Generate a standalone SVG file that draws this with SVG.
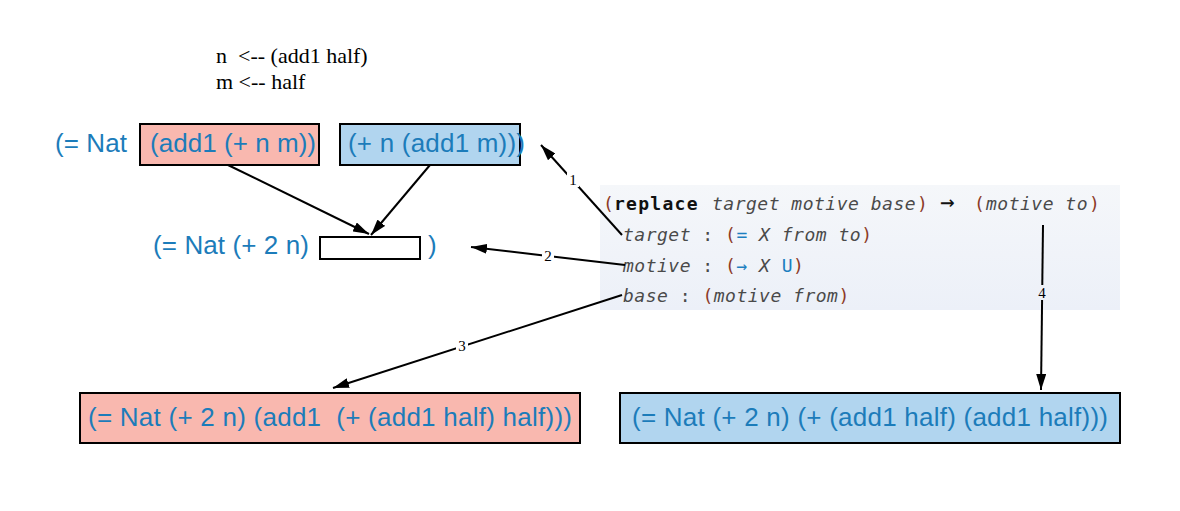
<svg xmlns="http://www.w3.org/2000/svg" width="1180" height="511" viewBox="0 0 1180 511">
<style>
.expr{font-family:"Liberation Sans",Arial,sans-serif;font-size:26px;fill:#1c7cba}
.note{font-family:"Liberation Serif","Times New Roman",serif;font-size:22px;fill:#000}
.lbl{font-family:"Liberation Serif","Times New Roman",serif;font-size:15px;fill:#000;text-anchor:middle}
.code{font-family:"DejaVu Sans Mono","Liberation Mono",monospace;font-size:18px;letter-spacing:0.5px;fill:#4a4a4a}
.it{font-style:italic}
.p{fill:#8c3b28}
.b{font-weight:bold;fill:#111}
.s{fill:#1d7fc0}
.box{stroke:#000;stroke-width:2}
.edge{stroke:#000;stroke-width:2;fill:none}
</style>
<defs>
<marker id="ah" viewBox="0 0 16 10" refX="16" refY="5" markerWidth="16" markerHeight="10" markerUnits="userSpaceOnUse" orient="auto">
<path d="M0,0 L16,5 L0,10 z" fill="#000"/>
</marker>
<linearGradient id="pg" x1="0" y1="0" x2="0" y2="1">
<stop offset="0" stop-color="#f5f7fa"/>
<stop offset="1" stop-color="#ecf0f8"/>
</linearGradient>
</defs>
<rect width="1180" height="511" fill="#fff"/>

<g id="note">
<text class="note" x="216" y="63" xml:space="preserve">n  &lt;-- (add1 half)</text>
<text class="note" x="216" y="89" xml:space="preserve">m &lt;-- half</text>
</g>

<g id="goal">
<text class="expr" x="55" y="152" textLength="72" lengthAdjust="spacing">(= Nat</text>
<g id="from">
<rect class="box" x="140" y="124" width="179" height="41" fill="#f9b8af"/>
<text class="expr" x="150" y="152" textLength="166" lengthAdjust="spacing">(add1 (+ n m))</text>
</g>
<g id="to">
<rect class="box" x="340" y="124" width="180" height="41" fill="#b1d5ef"/>
<text class="expr" x="348" y="152" textLength="177" lengthAdjust="spacing">(+ n (add1 m)))</text>
</g>
</g>

<g id="motive">
<text class="expr" x="153" y="254" textLength="156" lengthAdjust="spacing">(= Nat (+ 2 n)</text>
<rect class="box" x="320" y="237" width="100" height="22" fill="#fff"/>
<text class="expr" x="428" y="254">)</text>
</g>

<g id="replace">
<rect x="600" y="185" width="520" height="125" fill="url(#pg)"/>
<text class="code" y="210"><tspan class="p" x="603">(</tspan><tspan class="b" x="614" textLength="84" lengthAdjust="spacing">replace</tspan><tspan class="it" x="712">target motive base</tspan><tspan class="p" x="917">)</tspan><tspan fill="#111" x="940" font-size="24">→</tspan><tspan class="p" x="974">(</tspan><tspan class="it" x="986">motive to</tspan><tspan class="p" x="1089">)</tspan></text>
<text class="code" x="623" y="241"><tspan class="it">target</tspan> : <tspan class="p">(</tspan><tspan class="s">=</tspan> <tspan class="it">X from to</tspan><tspan class="p">)</tspan></text>
<text class="code" x="623" y="272"><tspan class="it">motive</tspan> : <tspan class="p">(</tspan><tspan class="s">→</tspan> <tspan class="it">X</tspan> <tspan class="s">U</tspan><tspan class="p">)</tspan></text>
<text class="code" x="623" y="302"><tspan class="it">base</tspan> : <tspan class="p">(</tspan><tspan class="it">motive from</tspan><tspan class="p">)</tspan></text>
</g>

<g id="result-left">
<rect class="box" x="80" y="393" width="500" height="50" fill="#f9b8af"/>
<text class="expr" x="88" y="426" xml:space="preserve" textLength="484" lengthAdjust="spacing">(= Nat (+ 2 n) (add1  (+ (add1 half) half)))</text>
</g>
<g id="result-right">
<rect class="box" x="620" y="393" width="500" height="50" fill="#b1d5ef"/>
<text class="expr" x="632" y="426" textLength="476" lengthAdjust="spacing">(= Nat (+ 2 n) (+ (add1 half) (add1 half)))</text>
</g>

<g id="connectors">
<line class="edge" x1="228" y1="165" x2="369" y2="234" marker-end="url(#ah)"/>
<line class="edge" x1="430" y1="165" x2="371" y2="235" marker-end="url(#ah)"/>
<line class="edge" x1="622" y1="235" x2="541" y2="145" marker-end="url(#ah)"/>
<line class="edge" x1="625" y1="265" x2="471" y2="247" marker-end="url(#ah)"/>
<line class="edge" x1="622" y1="295" x2="333" y2="388" marker-end="url(#ah)"/>
<line class="edge" x1="1043" y1="225" x2="1041" y2="390" marker-end="url(#ah)"/>
<rect x="567" y="172" width="12" height="15" fill="#fff"/>
<text class="lbl" x="573" y="185">1</text>
<rect x="542" y="248" width="12" height="15" fill="#fff"/>
<text class="lbl" x="548" y="261">2</text>
<rect x="456" y="338" width="12" height="15" fill="#fff"/>
<text class="lbl" x="462" y="351">3</text>
<rect x="1036" y="285" width="12" height="15" fill="#eef1f8"/>
<text class="lbl" x="1042" y="298">4</text>
</g>
</svg>
